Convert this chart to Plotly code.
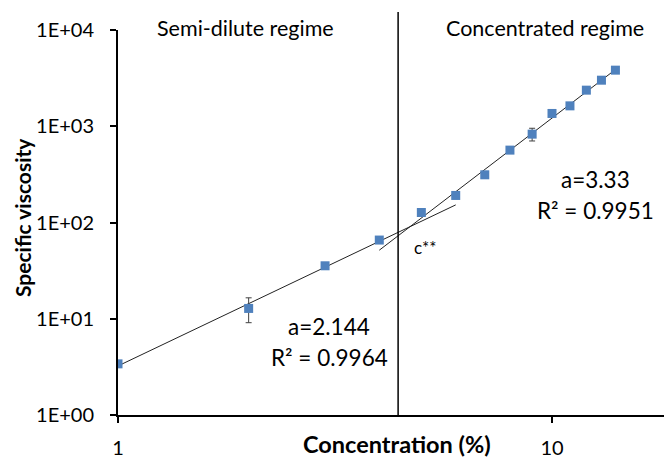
import numpy as np
import plotly.graph_objects as go

# Data
concentration = [1, 2, 3, 4, 5, 6, 7, 8, 9, 10, 11, 12, 13, 14]
specific_viscosity = [3.4, 12.8, 35.5, 65.7, 127, 191, 313, 565, 828, 1358, 1629, 2371, 3010, 3826]
error = [0.1, 3.7, 2.5, 2.0, 4, 6, 8, 15, 125, 60, 90, 40, 60, 80]
c_star = 4.42
semi_idx = [0, 1, 2, 3]
conc_idx = [4, 5, 6, 7, 8, 9, 10, 11, 12, 13]
semi_line_x = [1, 6]
conc_line_x = [4, 14]
label_semi = ["a=2.144", "R² = 0.9964"]
label_conc = ["a=3.33", "R² = 0.9951"]
x_ticks = [1, 10]
x_ticktext = ["1", "10"]
y_ticks = [1, 10, 100, 1000, 10000]
y_ticktext = ["1E+00", "1E+01", "1E+02", "1E+03", "1E+04"]

x = np.array(concentration, float)
y = np.array(specific_viscosity, float)


def fit(idx):
    s, b = np.polyfit(np.log10(x[idx]), np.log10(y[idx]), 1)
    return s, b


FONT = "Lato"
O = 8                      # page body margin offset
W, H = 672 - O, 459 - O
L, T, BOT = 118, 30, 415   # plot box in screenshot pixels

fig = go.Figure()

for idx, xr in [(semi_idx, semi_line_x), (conc_idx, conc_line_x)]:
    s, b = fit(idx)
    xs = np.array(xr, float)
    fig.add_trace(go.Scatter(x=xs, y=10 ** (b + s * np.log10(xs)), mode="lines",
                             line=dict(color="#222222", width=1), hoverinfo="skip",
                             showlegend=False))

fig.add_trace(go.Scatter(
    x=concentration, y=specific_viscosity, mode="markers",
    marker=dict(symbol="square", size=9, color="#4F81BD"),
    error_y=dict(type="data", array=error, color="#404040", thickness=1, width=3),
    showlegend=False))


def py2paper(py):
    return 1 - (py - O) / H


def px2paper(px):
    return (px - O) / W


fig.add_shape(type="line", xref="x", yref="paper", x0=c_star, x1=c_star,
              y0=py2paper(BOT), y1=py2paper(12), line=dict(color="black", width=1.5))


def txt(px, py, t, size=21, angle=0):
    fig.add_annotation(x=px2paper(px), y=py2paper(py), xref="paper", yref="paper", text=t,
                       showarrow=False, xanchor="center", yanchor="middle", textangle=angle,
                       font=dict(family=FONT, size=size, color="black"))


txt(245, 28, "Semi-dilute regime", 21.5)
txt(545, 28, "Concentrated regime", 21.5)
txt(425, 247, "c**", 17)
txt(329, 326, label_semi[0], 22.5)
txt(329, 357, label_semi[1], 22.5)
txt(595, 179, label_conc[0], 22.5)
txt(595, 210, label_conc[1], 22.5)
txt(397, 444, "<b>Concentration (%)</b>", 23.5)
txt(23, 218, "<b>Specific viscosity</b>", 21, -90)

fig.update_layout(
    width=W, height=H,
    margin=dict(l=0, r=0, t=0, b=0),
    paper_bgcolor="white", plot_bgcolor="white",
    font=dict(family=FONT, size=20, color="black"),
    xaxis=dict(type="log", range=[0, (672 - L) / 434], domain=[px2paper(L), 1],
               automargin=False, ticklabelstandoff=8,
               tickvals=x_ticks, ticktext=x_ticktext, showgrid=False, zeroline=False,
               showline=True, linecolor="black", linewidth=2, ticks="outside", ticklen=6,
               tickwidth=2, tickcolor="black", tickfont=dict(size=20)),
    yaxis=dict(type="log", range=[0, 4], domain=[py2paper(BOT), py2paper(T)],
               automargin=False, ticklabelstandoff=12,
               tickvals=y_ticks, ticktext=y_ticktext,
               showgrid=False, zeroline=False, showline=True, linecolor="black", linewidth=2,
               ticks="outside", ticklen=6, tickwidth=2, tickcolor="black",
               tickfont=dict(size=20)),
)
fig.write_html("out.html")
